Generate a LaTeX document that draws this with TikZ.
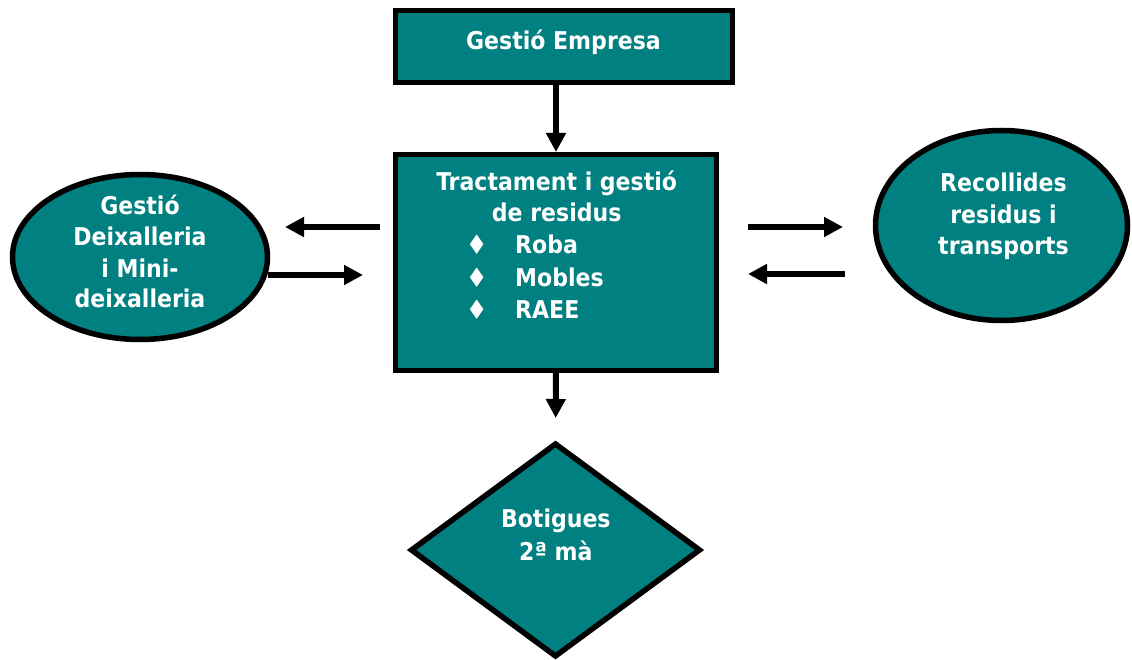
\documentclass[tikz,border=0pt]{standalone}
\usepackage{fontspec}
\setmainfont{DejaVu Sans Condensed}
\usetikzlibrary{shapes.geometric,arrows.meta}
\definecolor{tealfill}{RGB}{0,128,128}
\begin{document}
\begin{tikzpicture}[x=1pt,y=-1pt,
  shapebox/.style={draw=black, line width=5.5pt, fill=tealfill, inner sep=0pt, outer sep=0pt},
  lbl/.style={text=white, font=\fontsize{24.5}{32}\selectfont\bfseries, inner sep=0pt, anchor=base},
  bul/.style={text=white, font=\fontsize{27}{32}\selectfont, inner sep=0pt, anchor=base},
  arr/.style={line width=6pt, -{Triangle[length=19pt,width=19pt]}}]
\useasboundingbox (0,0) rectangle (1132,660);

% shapes
\node[shapebox, rectangle, minimum width=337pt, minimum height=72pt] (top) at (564,46.5) {};
\node[shapebox, rectangle, minimum width=321pt, minimum height=216pt] (main) at (556,262.5) {};
\node[shapebox, ellipse, minimum width=255pt, minimum height=165pt] (left) at (140,257) {};
\node[shapebox, ellipse, minimum width=252pt, minimum height=190pt] (right) at (1001.5,225.5) {};
\node[shapebox, diamond, minimum width=288pt, minimum height=212pt] (shop) at (555.5,550) {};

% texts
\node[lbl] (toptxt) at (563.5,50) {Gestió Empresa};
\node[lbl] (m1) at (556.7,190.7) {Tractament i gestió};
\node[lbl] (m2) at (556.7,221.7) {de residus};
\node[bul] (b1) at (476.7,255) {♦};
\node[bul] (b2) at (476.7,287.5) {♦};
\node[bul] (b3) at (476.7,319) {♦};
\node[lbl, anchor=base west] (t1) at (515,254) {Roba};
\node[lbl, anchor=base west] (t2) at (515,286.5) {Mobles};
\node[lbl, anchor=base west] (t3) at (515,318) {RAEE};

\node[lbl] (l1) at (140,215) {Gestió};
\node[lbl] (l2) at (140,246) {Deixalleria};
\node[lbl] (l3) at (140,277.5) {i Mini-};
\node[lbl] (l4) at (140,308) {deixalleria};

\node[lbl] (r1) at (1003.5,192) {Recollides};
\node[lbl] (r2) at (1003.5,223.5) {residus i};
\node[lbl] (r3) at (1003.5,255) {transports};

\node[lbl] (s1) at (555.8,527) {Botigues};
\node[lbl] (s2) at (555.8,560) {2ª mà};

% connectors
\draw[arr, shorten >=2.5pt] (main.north |- top.south) -- (main.north);
\draw[arr, shorten >=26pt] (main.south) -- (shop.north);

\coordinate (la1s) at (380,227);
\coordinate (la1e) at (285,227);
\coordinate (la2s) at (268,275);
\coordinate (la2e) at (363,275);
\coordinate (ra1s) at (748,227);
\coordinate (ra1e) at (843,227);
\coordinate (ra2s) at (845,274);
\coordinate (ra2e) at (748,274);
\draw[arr] (la1s) -- (la1e);
\draw[arr] (la2s) -- (la2e);
\draw[arr] (ra1s) -- (ra1e);
\draw[arr] (ra2s) -- (ra2e);
\end{tikzpicture}
\end{document}
